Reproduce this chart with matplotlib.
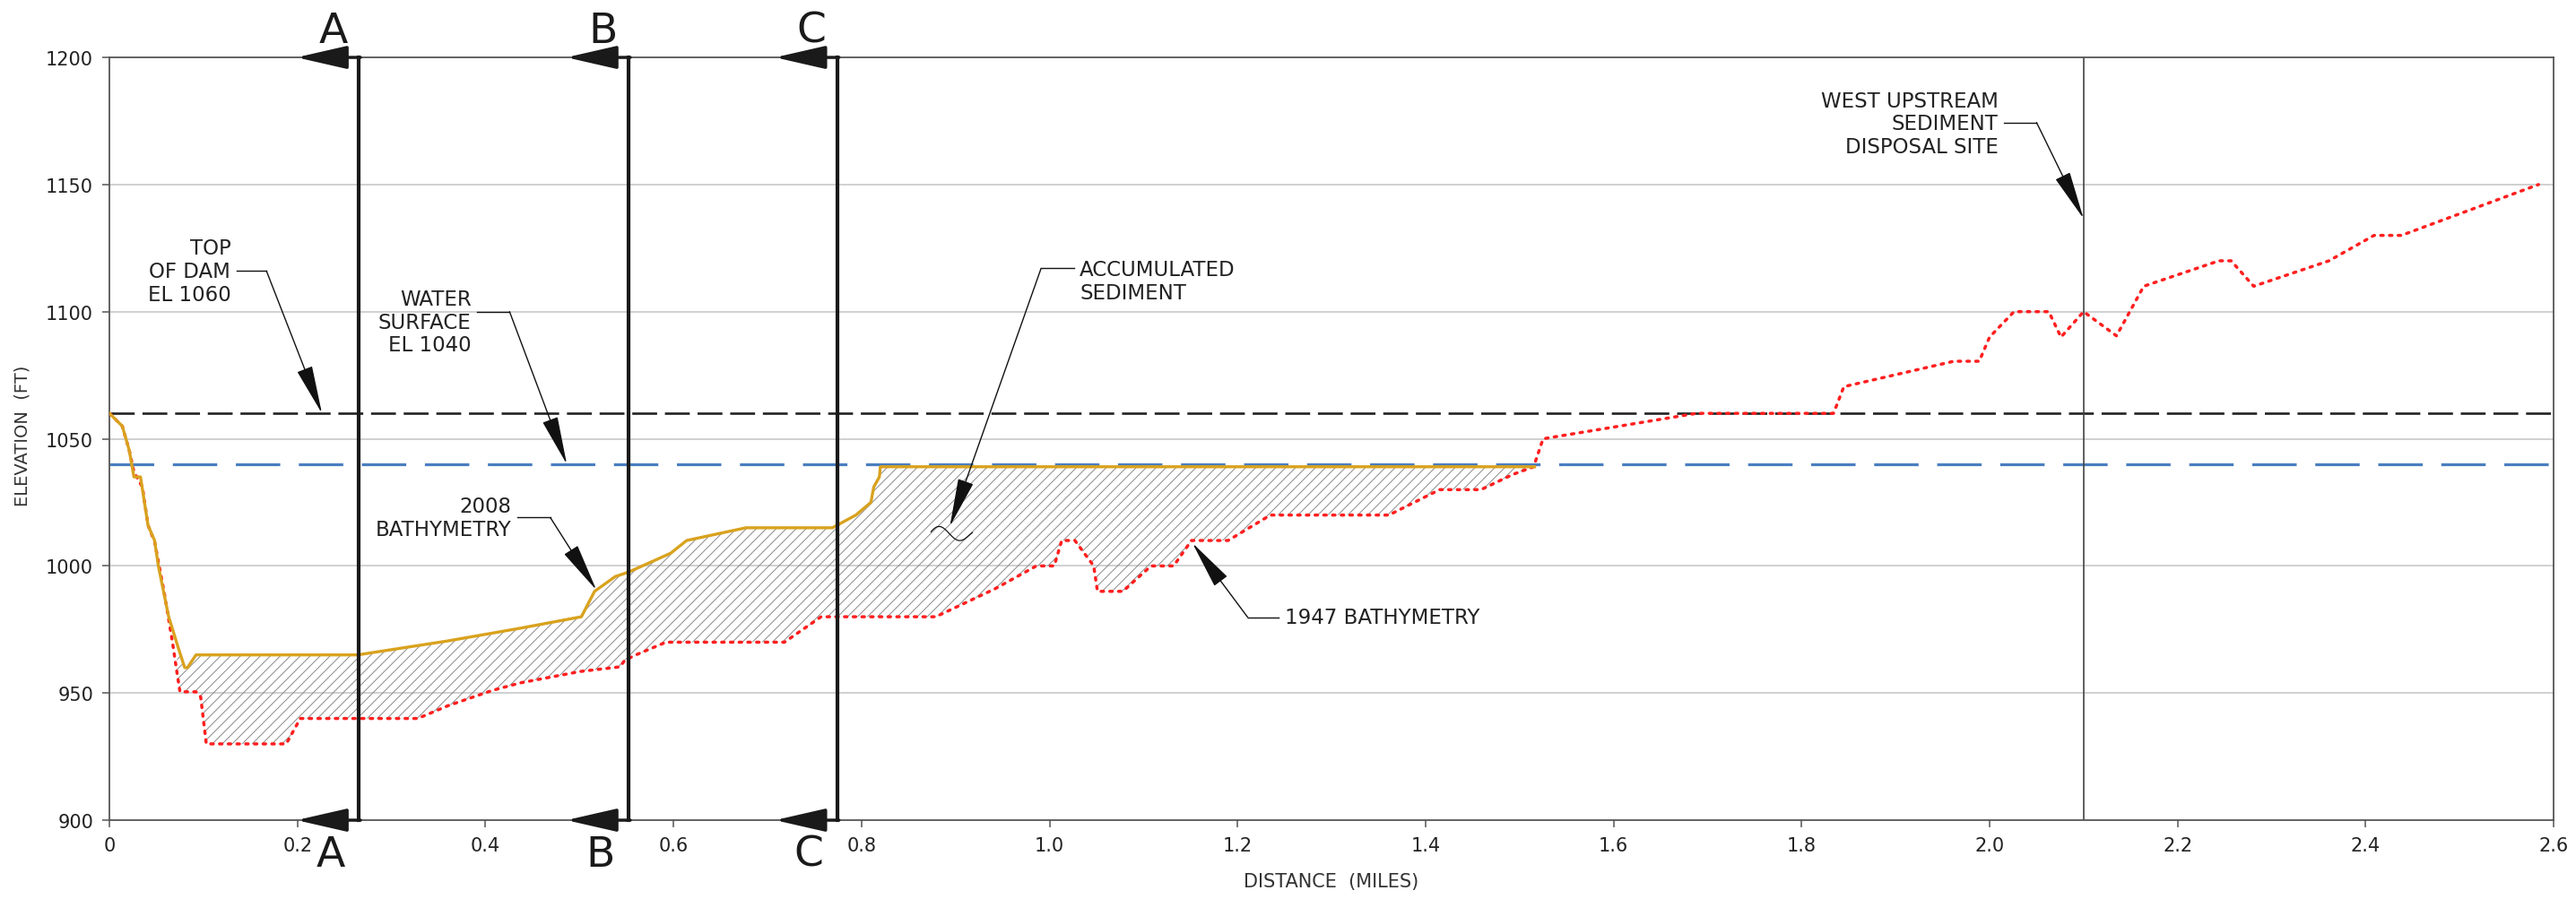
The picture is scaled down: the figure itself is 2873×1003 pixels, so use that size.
import numpy as np
import matplotlib
matplotlib.use("Agg")
import matplotlib.pyplot as plt

plt.rcParams['font.family'] = ['Liberation Sans Narrow', 'DejaVu Sans Condensed', 'DejaVu Sans']
plt.rcParams['hatch.linewidth'] = 0.7

# --- data ---
dist_2008 = [0, 0.0136, 0.021, 0.026, 0.033, 0.041, 0.048, 0.052, 0.063, 0.073, 0.080, 0.083,
             0.092, 0.264, 0.36, 0.437, 0.502, 0.516, 0.538, 0.553, 0.597, 0.614, 0.677, 0.769,
             0.794, 0.810, 0.813, 0.819, 0.820, 1.516]
elev_2008 = [1060, 1055, 1045.5, 1035, 1035, 1016, 1010, 1000, 980, 968, 960, 960,
             965, 965, 970.5, 975.5, 980, 990, 995.8, 997.7, 1005, 1010, 1015, 1015,
             1020, 1025, 1031, 1035, 1039, 1039]

dist_1947 = [0, 0.0136, 0.021, 0.026, 0.035, 0.041, 0.048, 0.058, 0.067, 0.071, 0.075, 0.092,
             0.097, 0.103, 0.188, 0.203, 0.328, 0.36, 0.407, 0.437, 0.501, 0.543, 0.548, 0.558,
             0.592, 0.718, 0.757, 0.879, 0.942, 0.986, 1.005, 1.013, 1.027, 1.047, 1.051, 1.078,
             1.108, 1.132, 1.151, 1.19, 1.235, 1.361, 1.415, 1.459, 1.493, 1.515, 1.525, 1.688,
             1.834, 1.845, 1.962, 1.989, 2.0, 2.026, 2.063, 2.076, 2.1, 2.135, 2.164, 2.244,
             2.257, 2.281, 2.361, 2.409, 2.438, 2.584]
elev_1947 = [1060, 1055, 1045.5, 1037, 1031, 1016, 1009.5, 990, 970, 960, 950.5, 950.5,
             948.5, 930, 930, 940, 940, 945, 951, 954, 958.5, 960.3, 962.8, 964.7,
             970, 970, 980, 980, 991, 1000, 1000, 1010, 1010, 1000, 990, 990,
             1000, 1000, 1010, 1010, 1020, 1020, 1030, 1030, 1036, 1039, 1050, 1060,
             1060, 1070.5, 1080.5, 1080.5, 1090, 1100, 1100, 1090, 1100, 1090.5, 1110, 1120,
             1120, 1110, 1120, 1130, 1130, 1150]

top_of_dam = 1060
water_surface = 1040
sections = ['A', 'B', 'C']
section_dist = [0.265, 0.552, 0.774]
disposal_dist = 2.1

x_ticks = [0, 0.2, 0.4, 0.6, 0.8, 1.0, 1.2, 1.4, 1.6, 1.8, 2.0, 2.2, 2.4, 2.6]
x_labels = ['0', '0.2', '0.4', '0.6', '0.8', '1.0', '1.2', '1.4', '1.6', '1.8', '2.0', '2.2', '2.4', '2.6']
y_ticks = [900, 950, 1000, 1050, 1100, 1150, 1200]

# --- figure ---
fig = plt.figure(figsize=(28.73, 10.04), dpi=100)
ax = fig.add_axes([0.0425, 0.0876, 0.9488, 0.8476])
ax.set_xlim(0, 2.6)
ax.set_ylim(900, 1200)

for y in y_ticks[1:-1]:
    ax.axhline(y, color='#c4c4c4', lw=1.1, zorder=0)

for s in ax.spines.values():
    s.set_color('#555555')
    s.set_linewidth(1.3)

ax.set_xticks(x_ticks)
ax.set_xticklabels(x_labels)
ax.set_yticks(y_ticks)
ax.tick_params(axis='both', direction='out', length=6, width=1.1, color='#555555',
               labelsize=15, labelcolor='#222222', pad=7)
ax.set_ylabel('ELEVATION  (FT)', fontsize=14, color='#333333')
ax.set_xlabel('DISTANCE  (MILES)', fontsize=15, color='#333333')
ax.yaxis.set_label_coords(-0.032, 0.505)
ax.xaxis.set_label_coords(0.5, -0.068)

# accumulated sediment hatch
d08 = np.array(dist_2008); e08 = np.array(elev_2008)
d47 = np.array(dist_1947); e47 = np.array(elev_1947)
m08 = (d08 >= 0.071) & (d08 <= 1.516)
m47 = (d47 >= 0.071) & (d47 <= 1.516)
poly_x = np.concatenate([d08[m08], d47[m47][::-1]])
poly_y = np.concatenate([e08[m08], e47[m47][::-1]])
ax.fill(poly_x, poly_y, facecolor='none', edgecolor='#8a8a8a', hatch='///', linewidth=0, zorder=1)

# reference elevations
ax.axhline(top_of_dam, color='#222222', lw=1.9, dashes=(10.5, 3.3), zorder=2)
ax.axhline(water_surface, color='#4a7ebf', lw=2.3, dashes=(15.5, 6.5), zorder=2)

# bathymetry
ax.plot(dist_1947, elev_1947, color='#ff1f1f', lw=2.5, linestyle=(0, (0.8, 2.0)),
        dash_capstyle='round', zorder=3)
ax.plot(dist_2008, elev_2008, color='#d9a21e', lw=2.4, zorder=4)

# disposal site line
ax.axvline(disposal_dist, color='#444444', lw=1.2, zorder=2)

# section cuts
arrow_len = 0.066
for name, xs in zip(sections, section_dist):
    ax.plot([xs, xs], [900, 1200], color='#1a1a1a', lw=3.0, zorder=5, clip_on=False,
            solid_capstyle='projecting')
    for yy in (1200, 900):
        ax.annotate('', xy=(xs - arrow_len, yy), xytext=(xs + 0.002, yy),
                    annotation_clip=False,
                    arrowprops=dict(arrowstyle='-|>,head_length=35,head_width=8',
                                    mutation_scale=1, lw=2.5, color='#1a1a1a',
                                    shrinkA=0, shrinkB=0))
    ax.text(xs - 0.027, 1200 + 10.5, name, fontsize=34, ha='center', va='center',
            color='#1a1a1a', clip_on=False)
    ax.text(xs - 0.03, 900 - 13.5, name, fontsize=34, ha='center', va='center',
            color='#1a1a1a', clip_on=False)


def callout(text, text_xy, ha, knee, tip, leader_y=None):
    ax.text(text_xy[0], text_xy[1], text, fontsize=16.5, ha=ha, va='center',
            color='#222222', linespacing=1.15, zorder=6)
    ly = knee[1] if leader_y is None else leader_y
    start = text_xy[0] + (0.006 if ha == 'right' else -0.006)
    ax.plot([start, knee[0]], [ly, ly], color='#111111', lw=1.0, zorder=6)
    ax.annotate('', xy=tip, xytext=(knee[0], ly),
                arrowprops=dict(arrowstyle='-|>,head_length=2.3,head_width=0.38',
                                mutation_scale=15, lw=1.0, color='#111111',
                                shrinkA=0, shrinkB=0), zorder=6)


callout('TOP\nOF DAM\nEL 1060', (0.129, 1116), 'right', (0.167, 1116), (0.226, 1060))
callout('WATER\nSURFACE\nEL 1040', (0.385, 1096), 'right', (0.4256, 1100), (0.4865, 1040))
callout('2008\nBATHYMETRY', (0.428, 1019), 'right', (0.469, 1019), (0.518, 990.5))
callout('ACCUMULATED\nSEDIMENT', (1.032, 1112), 'left', (0.991, 1117), (0.894, 1015.6))
callout('1947 BATHYMETRY', (1.25, 979.7), 'left', (1.211, 979.7), (1.152, 1009))
callout('WEST UPSTREAM\nSEDIMENT\nDISPOSAL SITE', (2.009, 1174), 'right', (2.05, 1174.4), (2.1, 1136.6))

# little squiggle at the sediment pointer
t = np.linspace(0, 1, 40)
ax.plot(0.874 + 0.044 * t, 1012.5 + 3.2 * np.sin(2 * np.pi * t + 0.3) * (1 - 0.3 * t),
        color='#111111', lw=0.9, zorder=6)

fig.savefig('out.png', dpi=100)
